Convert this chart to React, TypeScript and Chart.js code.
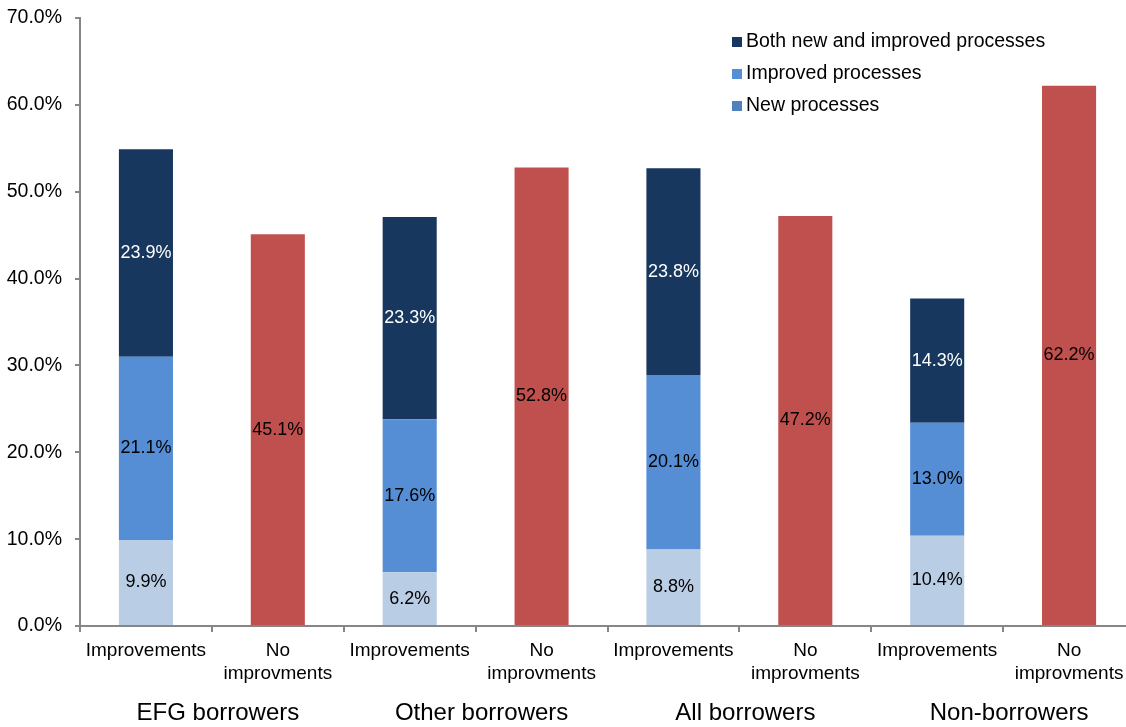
import React, { useEffect, useRef } from "react";
import { Chart, registerables } from "chart.js";

Chart.register(...registerables);

const categories = [
  "Improvements", ["No", "improvments"],
  "Improvements", ["No", "improvments"],
  "Improvements", ["No", "improvments"],
  "Improvements", ["No", "improvments"],
];
const groupLabels = ["EFG borrowers", "Other borrowers", "All borrowers", "Non-borrowers"];
const newProcesses = [9.9, null, 6.2, null, 8.8, null, 10.4, null];
const improvedProcesses = [21.1, null, 17.6, null, 20.1, null, 13.0, null];
const bothProcesses = [23.9, null, 23.3, null, 23.8, null, 14.3, null];
const noImprovements = [null, 45.1, null, 52.8, null, 47.2, null, 62.2];
const yTicks = [0, 10, 20, 30, 40, 50, 60, 70];

const FONT = "'Liberation Sans', Arial, sans-serif";
const AXIS = "#868686";

const legendItems = [
  { text: "Both new and improved processes", color: "#17375E" },
  { text: "Improved processes", color: "#558ED5" },
  { text: "New processes", color: "#4F81BD" },
];

const labelPlugin = {
  id: "segLabels",
  afterDatasetsDraw(chart: any) {
    const ctx = chart.ctx;
    ctx.save();
    ctx.font = `18px ${FONT}`;
    ctx.textAlign = "center";
    ctx.textBaseline = "middle";
    chart.data.datasets.forEach((ds: any, di: number) => {
      const meta = chart.getDatasetMeta(di);
      meta.data.forEach((el: any, i: number) => {
        const v = ds.data[i];
        if (v === null || v === undefined) return;
        const y = (el.y + el.base) / 2;
        ctx.fillStyle = ds.labelColor;
        ctx.fillText(v.toFixed(1) + "%", el.x, y);
      });
    });
    ctx.restore();
  },
  afterDraw(chart: any) {
    const ctx = chart.ctx;
    const xs = chart.scales.x;
    ctx.save();
    ctx.fillStyle = "#000";
    ctx.font = `24px ${FONT}`;
    ctx.textAlign = "center";
    ctx.textBaseline = "middle";
    groupLabels.forEach((g, i) => {
      const cx = (xs.getPixelForValue(2 * i) + xs.getPixelForValue(2 * i + 1)) / 2;
      ctx.fillText(g, cx + 6, 713);
    });
    // legend
    ctx.font = `19.5px ${FONT}`;
    ctx.textAlign = "left";
    legendItems.forEach((it, i) => {
      const y = 42 + i * 32;
      ctx.fillStyle = it.color;
      ctx.fillRect(732, y - 5, 10, 10);
      ctx.fillStyle = "#000";
      ctx.fillText(it.text, 746, y);
    });
    ctx.restore();
  },
};

export default function App() {
  const ref = useRef<HTMLCanvasElement>(null);
  useEffect(() => {
    if (!ref.current) return;
    const chart = new Chart(ref.current, {
      type: "bar",
      data: {
        labels: categories as any,
        datasets: [
          { label: "New processes", data: newProcesses, backgroundColor: "#B9CDE5", labelColor: "#000" } as any,
          { label: "Improved processes", data: improvedProcesses, backgroundColor: "#558ED5", labelColor: "#000" } as any,
          { label: "Both new and improved processes", data: bothProcesses, backgroundColor: "#17375E", labelColor: "#fff" } as any,
          { label: "No improvements", data: noImprovements, backgroundColor: "#C0504D", labelColor: "#000" } as any,
        ],
      },
      options: {
        animation: false,
        responsive: true,
        maintainAspectRatio: false,
        layout: { padding: { top: 18, right: 5, left: 0, bottom: 0 } },
        datasets: { bar: { categoryPercentage: 1, barPercentage: 0.41, skipNull: false } as any },
        plugins: { legend: { display: false }, tooltip: { enabled: false } },
        scales: {
          x: {
            stacked: true,
            afterFit: (s: any) => { s.height = 101; s.paddingRight = 0; s.paddingLeft = 0; },
            border: { color: AXIS, width: 2 },
            grid: { drawOnChartArea: false, drawTicks: true, tickLength: 6, color: AXIS, offset: true, lineWidth: 2 },
            ticks: { color: "#000", font: { family: FONT, size: 19, lineHeight: 1.17 }, padding: 8, maxRotation: 0, autoSkip: false },
          },
          y: {
            stacked: true,
            min: 0,
            max: 70,
            afterFit: (s: any) => { s.width = 80; s.paddingTop = 0; s.paddingBottom = 0; },
            afterBuildTicks: (s: any) => { s.ticks = yTicks.map((v) => ({ value: v })); },
            border: { color: AXIS, width: 2 },
            grid: { drawOnChartArea: false, drawTicks: true, tickLength: 5, color: AXIS, lineWidth: 2 },
            ticks: {
              color: "#000",
              font: { family: FONT, size: 19.5 },
              padding: 13,
              callback: (v: any) => Number(v).toFixed(1) + "%",
            },
          },
        },
      },
      plugins: [labelPlugin],
    });
    return () => chart.destroy();
  }, []);
  return (
    <div style={{ position: "fixed", left: 0, top: 0, width: 1140, height: 727, background: "#fff" }}>
      <canvas ref={ref} />
    </div>
  );
}
